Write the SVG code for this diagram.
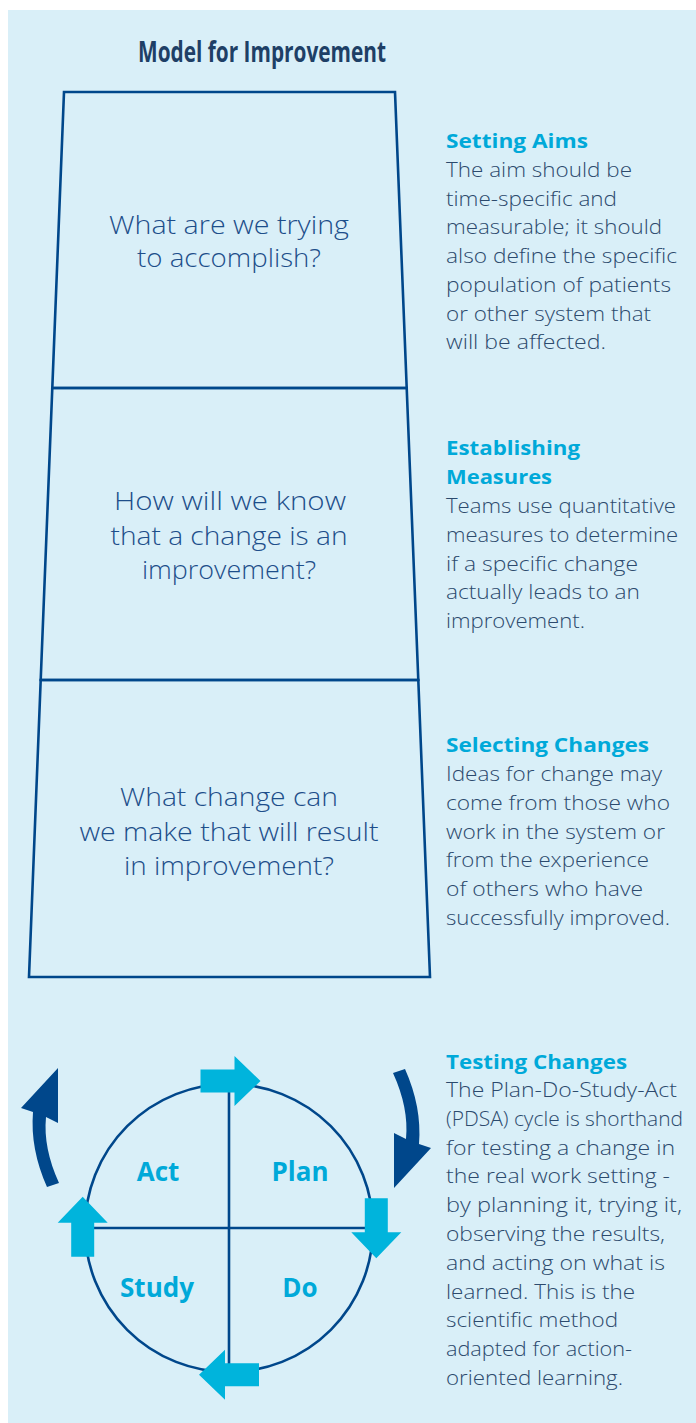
<svg xmlns="http://www.w3.org/2000/svg" width="696" height="1423" viewBox="0 0 696 1423">
  <style>
    .title { font-family: "Open Sans", "Noto Sans", sans-serif; font-weight: 700; font-size: 29px; fill: #1e3f66; }
    .q { font-family: "Open Sans", "Noto Sans", sans-serif; font-weight: 300; font-size: 25px; fill: #1d4e8a; text-anchor: middle; }
    .h { font-family: "Open Sans", "Noto Sans", sans-serif; font-weight: 700; font-size: 20px; fill: #00a9d9; }
    .b { font-family: "Open Sans", "Noto Sans", sans-serif; font-weight: 300; font-size: 20.5px; fill: #2c4a6d; }
    .lbl { font-family: "Open Sans", "Noto Sans", sans-serif; font-weight: 700; font-size: 26px; fill: #00a9d9; text-anchor: middle; }
    .line { fill: none; stroke: #00478b; stroke-width: 2.6; }
    .step { fill: #00b4dc; }
    .turn { fill: #00478b; }
  </style>
  <defs>
    <!-- straight block arrow pointing right, origin at tail centre -->
    <path id="block" d="M0,-11.5 H34 V-25 L60,0 L34,25 V11.5 H0 Z"/>
    <!-- curved turning arrow (right side); the left one is this rotated 180 degrees -->
    <path id="bend" d="M393,1073 L405,1069 Q422,1107 419,1144 L431,1148 L394,1188 L394,1133 L406,1139 Q409,1108 393,1073 Z"/>
  </defs>

  <!-- panel background -->
  <rect x="8" y="10" width="688" height="1413" fill="#d9eff8"/>

  <g id="title">
    <text class="title" x="138" y="62" textLength="248" lengthAdjust="spacingAndGlyphs">Model for Improvement</text>
  </g>

  <!-- funnel of three questions -->
  <g id="question-aim">
    <path class="line" d="M64,92 H395 L406.7,388 H52.3 Z"/>
    <text class="q" x="229" y="234" textLength="240" lengthAdjust="spacingAndGlyphs">What are we trying</text>
    <text class="q" x="229" y="267" textLength="184" lengthAdjust="spacingAndGlyphs">to accomplish?</text>
  </g>
  <g id="question-measure">
    <path class="line" d="M52.3,388 H406.7 L418.3,680 H40.7 Z"/>
    <text class="q" x="230" y="510" textLength="232" lengthAdjust="spacingAndGlyphs">How will we know</text>
    <text class="q" x="229" y="545" textLength="237" lengthAdjust="spacingAndGlyphs">that a change is an</text>
    <text class="q" x="229" y="579" textLength="174" lengthAdjust="spacingAndGlyphs">improvement?</text>
  </g>
  <g id="question-change">
    <path class="line" d="M40.7,680 H418.3 L430,977 H29 Z"/>
    <text class="q" x="229" y="806" textLength="218" lengthAdjust="spacingAndGlyphs">What change can</text>
    <text class="q" x="229" y="841" textLength="299" lengthAdjust="spacingAndGlyphs">we make that will result</text>
    <text class="q" x="229" y="875" textLength="210" lengthAdjust="spacingAndGlyphs">in improvement?</text>
  </g>

  <!-- explanatory notes -->
  <g id="note-aims">
    <text class="h" x="446" y="148" textLength="142" lengthAdjust="spacingAndGlyphs">Setting Aims</text>
    <text class="b" x="446" y="177" textLength="186" lengthAdjust="spacingAndGlyphs">The aim should be</text>
    <text class="b" x="446" y="205.7" textLength="171" lengthAdjust="spacingAndGlyphs">time-specific and</text>
    <text class="b" x="446" y="234.4" textLength="216" lengthAdjust="spacingAndGlyphs">measurable; it should</text>
    <text class="b" x="446" y="263.1" textLength="231" lengthAdjust="spacingAndGlyphs">also define the specific</text>
    <text class="b" x="446" y="291.8" textLength="225" lengthAdjust="spacingAndGlyphs">population of patients</text>
    <text class="b" x="446" y="320.5" textLength="205" lengthAdjust="spacingAndGlyphs">or other system that</text>
    <text class="b" x="446" y="349.2" textLength="160" lengthAdjust="spacingAndGlyphs">will be affected.</text>
  </g>
  <g id="note-measures">
    <text class="h" x="446" y="455" textLength="134" lengthAdjust="spacingAndGlyphs">Establishing</text>
    <text class="h" x="446" y="484" textLength="106" lengthAdjust="spacingAndGlyphs">Measures</text>
    <text class="b" x="446" y="513" textLength="230" lengthAdjust="spacingAndGlyphs">Teams use quantitative</text>
    <text class="b" x="446" y="541.8" textLength="232" lengthAdjust="spacingAndGlyphs">measures to determine</text>
    <text class="b" x="446" y="570.5" textLength="192" lengthAdjust="spacingAndGlyphs">if a specific change</text>
    <text class="b" x="446" y="599.2" textLength="194" lengthAdjust="spacingAndGlyphs">actually leads to an</text>
    <text class="b" x="446" y="628" textLength="139" lengthAdjust="spacingAndGlyphs">improvement.</text>
  </g>
  <g id="note-changes">
    <text class="h" x="446" y="752" textLength="203" lengthAdjust="spacingAndGlyphs">Selecting Changes</text>
    <text class="b" x="446" y="781" textLength="216" lengthAdjust="spacingAndGlyphs">Ideas for change may</text>
    <text class="b" x="446" y="809.8" textLength="224" lengthAdjust="spacingAndGlyphs">come from those who</text>
    <text class="b" x="446" y="838.5" textLength="219" lengthAdjust="spacingAndGlyphs">work in the system or</text>
    <text class="b" x="446" y="867.2" textLength="203" lengthAdjust="spacingAndGlyphs">from the experience</text>
    <text class="b" x="446" y="896" textLength="197" lengthAdjust="spacingAndGlyphs">of others who have</text>
    <text class="b" x="446" y="924.8" textLength="224" lengthAdjust="spacingAndGlyphs">successfully improved.</text>
  </g>
  <g id="note-testing">
    <text class="h" x="446" y="1069" textLength="181" lengthAdjust="spacingAndGlyphs">Testing Changes</text>
    <text class="b" x="446" y="1097" textLength="231" lengthAdjust="spacingAndGlyphs">The Plan-Do-Study-Act</text>
    <text class="b" x="446" y="1125.8" textLength="237" lengthAdjust="spacingAndGlyphs">(PDSA) cycle is shorthand</text>
    <text class="b" x="446" y="1154.6" textLength="229" lengthAdjust="spacingAndGlyphs">for testing a change in</text>
    <text class="b" x="446" y="1183.4" textLength="224" lengthAdjust="spacingAndGlyphs">the real work setting -</text>
    <text class="b" x="446" y="1212.2" textLength="236" lengthAdjust="spacingAndGlyphs">by planning it, trying it,</text>
    <text class="b" x="446" y="1241" textLength="219" lengthAdjust="spacingAndGlyphs">observing the results,</text>
    <text class="b" x="446" y="1269.8" textLength="219" lengthAdjust="spacingAndGlyphs">and acting on what is</text>
    <text class="b" x="446" y="1298.6" textLength="189" lengthAdjust="spacingAndGlyphs">learned. This is the</text>
    <text class="b" x="446" y="1327.4" textLength="172" lengthAdjust="spacingAndGlyphs">scientific method</text>
    <text class="b" x="446" y="1356.2" textLength="186" lengthAdjust="spacingAndGlyphs">adapted for action-</text>
    <text class="b" x="446" y="1385" textLength="177" lengthAdjust="spacingAndGlyphs">oriented learning.</text>
  </g>

  <!-- PDSA cycle -->
  <g id="pdsa-cycle">
    <circle class="line" cx="229" cy="1228" r="144"/>
    <line class="line" x1="229" y1="1080" x2="229" y2="1366"/>
    <line class="line" x1="92" y1="1228" x2="372" y2="1228"/>
    <text class="lbl" x="158" y="1181">Act</text>
    <text class="lbl" x="300" y="1181">Plan</text>
    <text class="lbl" x="157" y="1297">Study</text>
    <text class="lbl" x="300" y="1297">Do</text>
  </g>

  <g id="connectors">
    <!-- step arrows on the cycle -->
    <use href="#block" class="step" transform="translate(200.5,1081)"/>
    <use href="#block" class="step" transform="translate(376.3,1198.3) rotate(90)"/>
    <use href="#block" class="step" transform="translate(259,1374.7) rotate(180)"/>
    <use href="#block" class="step" transform="translate(82.7,1256.7) rotate(-90)"/>
    <!-- turning arrows outside the cycle -->
    <use href="#bend" class="turn"/>
    <use href="#bend" class="turn" transform="rotate(180,226,1128)"/>
  </g>
</svg>
